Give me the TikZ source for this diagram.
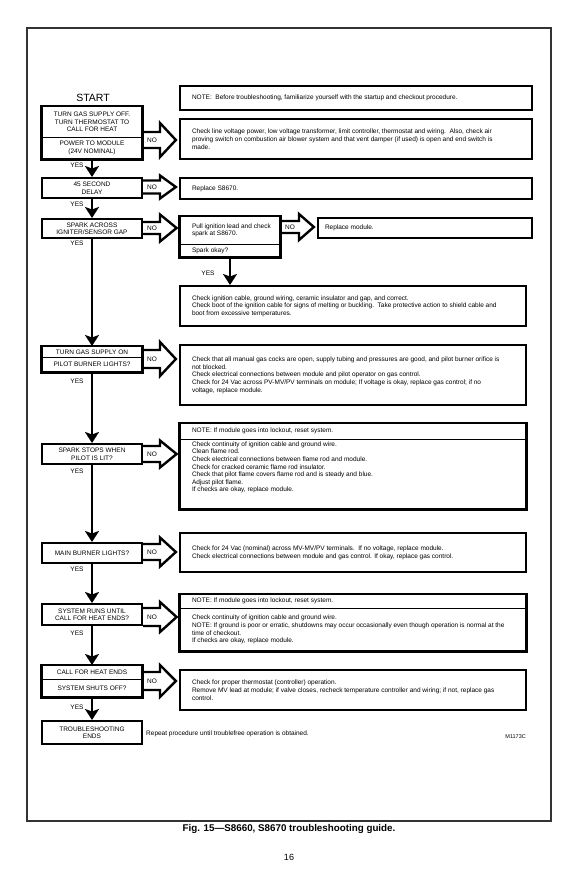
\documentclass[tikz,border=0pt]{standalone}
\usepackage{fontspec}
\setmainfont{Liberation Sans}
\usetikzlibrary{arrows.meta,calc,shapes.multipart}
\newcommand\lpart[2]{\parbox[c][#1][c]{100pt}{\centering #2}}
\newcommand\rtxt[2]{\makebox[#1][l]{\parbox[c]{420pt}{\raggedright #2}}}
\newcommand\rpart[4]{\makebox[#1][l]{\parbox[c][#2][#3]{420pt}{\raggedright #4}}}
\newcommand\noarrow[6]{%
  \draw[noarr] (#1.east |- 0,#3-#4) -- (#6,#3-#4) -- (#6,#3-#5)
    -- ($(#2.west |- 0,#3)+(-3,0)$) -- (#6,#3+#5) -- (#6,#3+#4)
    -- (#1.east |- 0,#3+#4);}
\tikzset{
  txt/.style={font=\fontsize{6.5}{7.6}\selectfont},
  bx/.style={draw, line width=2.3pt, inner ysep=0pt, anchor=north, txt},
  lbx/.style={bx, minimum width=100pt, align=center, inner xsep=1pt},
  rbx/.style={bx, inner xsep=12pt},
  lsplit/.style={rectangle split, rectangle split parts=2, draw, line width=0.8pt,
    inner sep=0pt, anchor=north, txt},
  rsplit/.style={rectangle split, rectangle split parts=2, draw, line width=0.8pt,
    inner ysep=0pt, inner xsep=12pt, anchor=north, txt},
  thickframe/.style={line width=2.3pt},
  downarr/.style={line width=2.6pt, -{Stealth[length=11pt,width=14pt,inset=2.5pt]}},
  noarr/.style={line width=2.4pt, line join=miter},
  lbl/.style={txt, inner sep=0pt},
}
\begin{document}
\begin{tikzpicture}[x=1pt,y=-1pt]
\useasboundingbox (0,0) rectangle (577,892);
\draw[line width=1.2pt, black!80] (27,28) rectangle (551,821);

\node[font=\fontsize{10.5}{12}\selectfont, inner sep=0pt] (start) at (93,98) {START};

\node[rbx, minimum width=352pt, minimum height=24pt] (n0) at (356,85)
  {\rtxt{328pt}{NOTE:\ \ Before troubleshooting, familiarize yourself with the startup and checkout procedure.}};

% row 1
\node[lsplit] (b1) at (92,106)
  {\lpart{30pt}{TURN GAS SUPPLY OFF.\\TURN THERMOSTAT TO\\CALL FOR HEAT}\nodepart{two}\lpart{21pt}{POWER TO MODULE\\(24V NOMINAL)}};
\draw[thickframe] (b1.north west) rectangle (b1.south east);
\node[rbx, minimum width=352pt, minimum height=40pt] (r1) at (356,118)
  {\rtxt{328pt}{Check line voltage power, low voltage transformer, limit controller, thermostat and wiring.\ \ Also, check air\\proving switch on combustion air blower system and that vent damper (if used) is open and end switch is\\made.}};

% row 2
\node[lbx, minimum height=20pt] (b2) at (92,177) {45 SECOND\\DELAY};
\node[rbx, minimum width=352pt, minimum height=21pt] (r2) at (356,177) {\rtxt{328pt}{Replace S8670.}};

% row 3
\node[lbx, minimum height=19pt] (b3) at (92,218) {SPARK ACROSS\\IGNITER/SENSOR GAP};
\node[rsplit] (pull) at (230,216)
  {\rpart{76pt}{27pt}{c}{Pull ignition lead and check\\spark at S8670.}\nodepart{two}\rpart{76pt}{12pt}{c}{Spark okay?}};
\draw[thickframe] (pull.north west) rectangle (pull.south east);
\node[rbx, inner xsep=7pt, minimum width=214pt, minimum height=20pt] (rmod) at (425,217) {\rtxt{200pt}{Replace module.}};
\node[rbx, minimum width=346pt, minimum height=40pt] (ign) at (353,285)
  {\rtxt{322pt}{Check ignition cable, ground wiring, ceramic insulator and gap, and correct.\\Check boot of the ignition cable for signs of melting or buckling.\ \ Take protective action to shield cable and\\boot from excessive temperatures.}};

% row 4
\node[lsplit] (b4) at (92,346)
  {\lpart{10pt}{TURN GAS SUPPLY ON}\nodepart{two}\lpart{14pt}{PILOT BURNER LIGHTS?}};
\draw[thickframe] (b4.north west) rectangle (b4.south east);
\node[rbx, minimum width=346pt, minimum height=60pt] (r4) at (353,344)
  {\rtxt{322pt}{Check that all manual gas cocks are open, supply tubing and pressures are good, and pilot burner orifice is\\not blocked.\\Check electrical connections between module and pilot operator on gas control.\\Check for 24 Vac across PV-MV/PV terminals on module; If voltage is okay, replace gas control; if no\\voltage, replace module.}};

% row 5
\node[lbx, minimum height=20pt] (b5) at (92,443) {SPARK STOPS WHEN\\PILOT IS LIT?};
\node[rsplit] (r5) at (353,423)
  {\rpart{322pt}{15pt}{c}{NOTE: If module goes into lockout, reset system.}\nodepart{two}\rpart{322pt}{69pt}{t}{\vspace*{2pt}Check continuity of ignition cable and ground wire.\\Clean flame rod.\\Check electrical connections between flame rod and module.\\Check for cracked ceramic flame rod insulator.\\Check that pilot flame covers flame rod and is steady and blue.\\Adjust pilot flame.\\If checks are okay, replace module.}};
\draw[thickframe] (r5.north west) rectangle (r5.south east);

% row 6
\node[lbx, minimum height=20pt] (b6) at (92,542) {MAIN BURNER LIGHTS?};
\node[rbx, minimum width=346pt, minimum height=39pt] (r6) at (353,532)
  {\rtxt{322pt}{Check for 24 Vac (nominal) across MV-MV/PV terminals.\ \ If no voltage, replace module.\\Check electrical connections between module and gas control. If okay, replace gas control.}};

% row 7
\node[lbx, minimum height=21pt] (b7) at (92,603) {SYSTEM RUNS UNTIL\\CALL FOR HEAT ENDS?};
\node[rsplit] (r7) at (353,594)
  {\rpart{322pt}{13pt}{c}{NOTE: If module goes into lockout, reset system.}\nodepart{two}\rpart{322pt}{42pt}{c}{Check continuity of ignition cable and ground wire.\\NOTE: If ground is poor or erratic, shutdowns may occur occasionally even though operation is normal at the\\time of checkout.\\If checks are okay, replace module.}};
\draw[thickframe] (r7.north west) rectangle (r7.south east);

% row 8
\node[lsplit] (b8) at (92,665)
  {\lpart{13pt}{CALL FOR HEAT ENDS}\nodepart{two}\lpart{17pt}{SYSTEM SHUTS OFF?}};
\draw[thickframe] (b8.north west) rectangle (b8.south east);
\node[rbx, minimum width=346pt, minimum height=40pt] (r8) at (353,669)
  {\rtxt{322pt}{Check for proper thermostat (controller) operation.\\Remove MV lead at module; if valve closes, recheck temperature controller and wiring; if not, replace gas\\control.}};

% row 9
\node[lbx, minimum height=23pt] (b9) at (92,720) {TROUBLESHOOTING\\ENDS};
\node[lbl, anchor=west] (rep) at (146,734) {Repeat procedure until troublefree operation is obtained.};
\node[font=\fontsize{5.5}{6}\selectfont, inner sep=0pt, anchor=east] (mcode) at (526,737) {M1173C};

% down arrows
\draw[downarr] (b1.south) -- (b2.north);
\draw[downarr] (b2.south) -- (b3.north);
\draw[downarr] (b3.south) -- (b4.north);
\draw[downarr] (b4.south) -- (b5.north);
\draw[downarr] (b5.south) -- (b6.north);
\draw[downarr] (b6.south) -- (b7.north);
\draw[downarr] (b7.south) -- (b8.north);
\draw[downarr] (b8.south) -- (b9.north);
\draw[downarr] (pull.south) -- (ign.north -| pull.south);

% NO arrows
\noarrow{b1}{r1}{140}{8}{17}{160}
\noarrow{b2}{r2}{187}{6.5}{11.5}{160}
\noarrow{b3}{pull}{228}{6}{13.5}{160}
\noarrow{pull}{rmod}{227}{6}{13}{299}
\noarrow{b4}{r4}{359}{9}{17}{160}
\noarrow{b5}{r5}{454}{8}{13.5}{160}
\noarrow{b6}{r6}{552}{8}{14.5}{160}
\noarrow{b7}{r7}{617}{9}{15}{160}
\noarrow{b8}{r8}{681}{9}{16}{160}

\node[lbl] (no1) at (152,140) {NO};
\node[lbl] (no2) at (152,187) {NO};
\node[lbl] (no3) at (152,228) {NO};
\node[lbl] (no3b) at (290,227) {NO};
\node[lbl] (no4) at (152,359) {NO};
\node[lbl] (no5) at (152,454) {NO};
\node[lbl] (no6) at (152,552) {NO};
\node[lbl] (no7) at (152,617) {NO};
\node[lbl] (no8) at (152,681) {NO};

% YES labels
\node[lbl] (y1) at (77,165) {YES};
\node[lbl] (y2) at (77,204) {YES};
\node[lbl] (y3) at (77,243) {YES};
\node[lbl] (y3b) at (208,273) {YES};
\node[lbl] (y4) at (77,381) {YES};
\node[lbl] (y5) at (77,471) {YES};
\node[lbl] (y6) at (77,569) {YES};
\node[lbl] (y7) at (77,633) {YES};
\node[lbl] (y8) at (77,707) {YES};

% caption
\node[font=\bfseries\fontsize{9.8}{11}\selectfont, inner sep=0pt] (cap) at (289,829) {Fig. 15---S8660, S8670 troubleshooting guide.};
\node[font=\fontsize{9}{10}\selectfont, inner sep=0pt] (pg) at (289,857) {16};
\end{tikzpicture}
\end{document}
